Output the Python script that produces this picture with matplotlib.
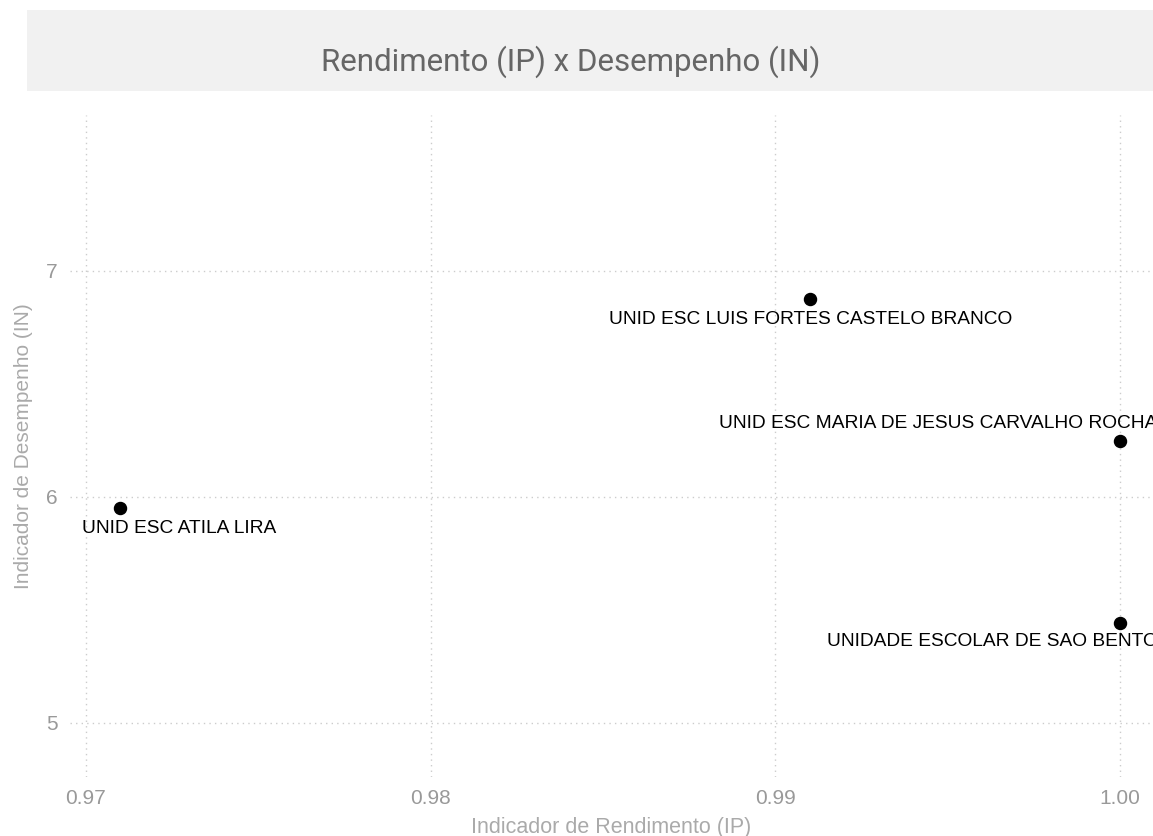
import matplotlib
matplotlib.use("Agg")
import matplotlib.pyplot as plt
from matplotlib.patches import Rectangle

# dados das escolas
escolas = ["UNID ESC ATILA LIRA",
           "UNID ESC LUIS FORTES CASTELO BRANCO",
           "UNID ESC MARIA DE JESUS CARVALHO ROCHA",
           "UNIDADE ESCOLAR DE SAO BENTO"]
rendimento = [0.971, 0.991, 1.000, 1.000]
desempenho = [5.95, 6.875, 6.245, 5.44]

x_ticks = [0.97, 0.98, 0.99, 1.00]
x_ticklabels = ["0.97", "0.98", "0.99", "1.00"]
y_ticks = [5, 6, 7]

# deslocamento dos rotulos (pixels) e alinhamento
label_offsets = [(-38, -20, "left"), (1, -20, "center"), (-401, 18, "left"), (-293, -18, "left")]

fig = plt.figure(figsize=(11.53, 8.36), dpi=100)

# faixa do titulo
fig.patches.append(Rectangle((27 / 1153, 1 - 91 / 836), 1 - 27 / 1153, 81 / 836,
                             transform=fig.transFigure, facecolor="#f1f1f1",
                             edgecolor="none", zorder=0))
fig.text(571 / 1153, 1 - 62 / 836, "Rendimento (IP) x Desempenho (IN)",
         ha="center", va="center", fontsize=22.5, color="#666666",
         family=["Roboto", "DejaVu Sans"])

ax = fig.add_axes([70 / 1153, 1 - 777 / 836, 1 - 70 / 1153, (777 - 115) / 836])
ax.scatter(rendimento, desempenho, s=75, color="black", zorder=3)

for nome, xv, yv, (dx, dy, ha) in zip(escolas, rendimento, desempenho, label_offsets):
    ax.annotate(nome, (xv, yv), xytext=(dx * 0.72, dy * 0.72), textcoords="offset points",
                ha=ha, va="center", fontsize=13.8, color="black",
                family=["Liberation Sans", "DejaVu Sans"], annotation_clip=False)

ax.set_xlim(0.96954, 1.00096)
ax.set_ylim(4.76, 7.69)
ax.set_xticks(x_ticks)
ax.set_xticklabels(x_ticklabels)
ax.set_yticks(y_ticks)

ax.grid(True, linestyle=(0, (1, 3)), color="#cccccc", linewidth=1)
ax.set_axisbelow(True)
for s in ax.spines.values():
    s.set_visible(False)
ax.tick_params(length=0, labelsize=15, labelcolor="#999999", pad=9)
for lab in ax.get_xticklabels() + ax.get_yticklabels():
    lab.set_family(["Liberation Sans", "DejaVu Sans"])

ax.set_xlabel("Indicador de Rendimento (IP)", fontsize=15.5, color="#aaaaaa",
              family=["Liberation Sans", "DejaVu Sans"], labelpad=6)
ax.set_ylabel("Indicador de Desempenho (IN)", fontsize=15, color="#aaaaaa",
              family=["Liberation Sans", "DejaVu Sans"], labelpad=9)

fig.savefig("out.png", dpi=100)
